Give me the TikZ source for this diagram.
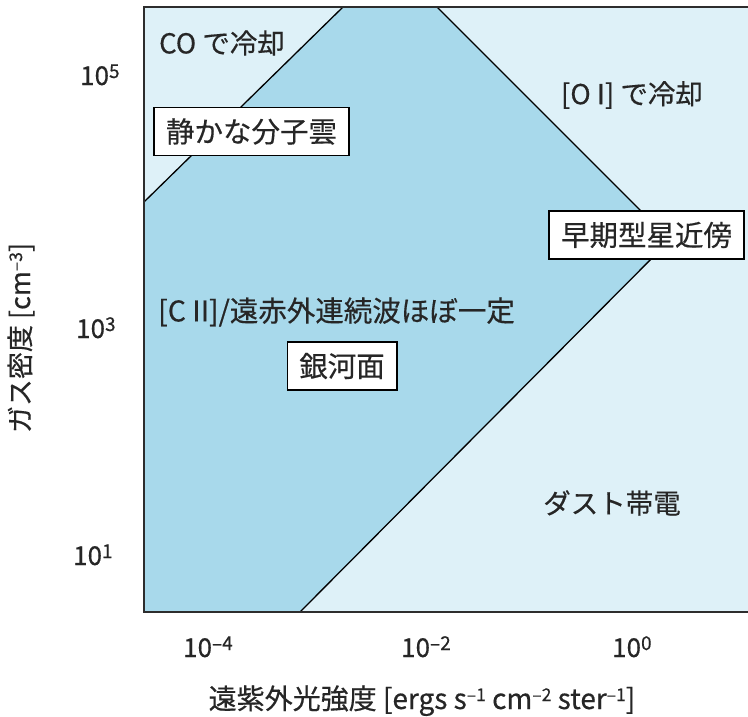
\documentclass[tikz,border=0pt]{standalone}
\usepackage{fontspec}
\setmainfont{Noto Sans CJK JP}[FakeBold=0.4]
\definecolor{deepblue}{RGB}{168,217,235}
\definecolor{paleblue}{RGB}{222,241,248}
\definecolor{framegray}{RGB}{45,45,45}
\definecolor{inkgray}{RGB}{38,38,38}
\newcommand{\upx}[1]{\raisebox{8pt}{\fontsize{17.5}{17.5}\selectfont #1}}
\newcommand{\upt}[1]{\raisebox{7pt}{\fontsize{19}{19}\selectfont #1}}
\begin{document}
\begin{tikzpicture}[x=1pt,y=-1pt,
  lab/.style={font=\fontsize{27.5}{32}\selectfont, inner sep=0pt, text=inkgray},
  tag/.style={draw=black, line width=1.5pt, fill=white, font=\fontsize{28.5}{32}\selectfont, inner xsep=12pt, inner ysep=0pt, minimum height=48pt, text=inkgray},
  ticklab/.style={font=\fontsize{26}{30}\selectfont, inner sep=0pt, text=inkgray},
  bound/.style={line width=1.3pt, black}]
\useasboundingbox (0,0) rectangle (748,717);
\clip (0,0) rectangle (748,717);
\fill[white] (0,0) rectangle (748,717);
\fill[paleblue] (144,7) rectangle (760,612);
\coordinate (co0) at (144,202);
\coordinate (co1) at (343,7);
\coordinate (oi0) at (437,7);
\coordinate (apex) at (670,240);
\coordinate (dc0) at (300,612);
\coordinate (bl) at (144,612);
\fill[deepblue] (co0) -- (co1) -- (oi0) -- (apex) -- (dc0) -- (bl) -- cycle;
\draw[bound] (co0) -- (co1);
\draw[bound] (oi0) -- (apex) -- (dc0);
\draw[framegray, line width=2.2pt] (760,7) -- (144,7) -- (144,612) -- (760,612);
% boxed labels
\node[tag] (quiet) at (251.5,131.5) {静かな分子雲};
\node[tag] (early) at (646.5,235) {早期型星近傍};
\node[tag] (galaxy) at (342,366) {銀河面};
% region labels
\node[lab] (co) at (222,43) {CO で冷却};
\node[lab] (oi) at (632,95) {[O I] で冷却};
\node[lab, font=\fontsize{28.5}{32}\selectfont] (cii) at (336.5,312) {[C II]/遠赤外連続波ほぼ一定};
\node[lab] (dust) at (612,503) {ダスト帯電};
% y ticks
\node[ticklab, anchor=base west] (y5) at (80,85) {10\upt{5}};
\node[ticklab, anchor=base west] (y3) at (76,338) {10\upt{3}};
\node[ticklab, anchor=base west] (y1) at (73,565) {10\upt{1}};
% x ticks
\node[ticklab, anchor=base west] (xm4) at (183,657) {10\upt{–4}};
\node[ticklab, anchor=base west] (xm2) at (401,657) {10\upt{–2}};
\node[ticklab, anchor=base west] (x0) at (612,657) {10\upt{0}};
% axis titles
\node[lab, font=\fontsize{28}{32}\selectfont, anchor=base] (xtitle) at (422,709) {遠紫外光強度 [ergs s\upx{–1} cm\upx{–2} ster\upx{–1}]};
\node[lab, font=\fontsize{27}{32}\selectfont, rotate=90] (ytitle) at (21,338) {ガス密度 [cm\upx{–3}]};
\end{tikzpicture}
\end{document}
